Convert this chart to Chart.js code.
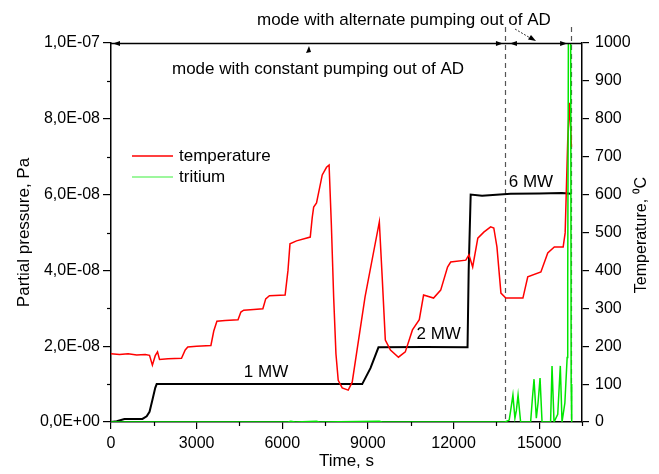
<!DOCTYPE html>
<html>
<head>
<meta charset="utf-8">
<script src="https://cdn.jsdelivr.net/npm/chart.js@4.4.1/dist/chart.umd.min.js"></script>
<style>
  html, body { margin: 0; padding: 0; background: #fff; }
</style>
</head>
<body>
<canvas id="chart" width="659" height="474"></canvas>
<script>
// temperature, degC (right axis)
const timeTemp = [0, 300, 600, 900, 1200, 1350, 1450, 1550, 1630, 1700, 2000, 2470, 2600, 2690, 3000, 3500, 3600, 3710, 4000, 4450, 4550, 4650, 5000, 5320, 5420, 5550, 6100, 6200, 6270, 6500, 6980, 7050, 7100, 7200, 7400, 7550, 7640, 7720, 7800, 7880, 7960, 8100, 8310, 8450, 8900, 9400, 9500, 9610, 9790, 10070, 10310, 10560, 10800, 10950, 11300, 11550, 11790, 11900, 12430, 12540, 12670, 12850, 13060, 13300, 13410, 13520, 13660, 13830, 14430, 14600, 15060, 15300, 15530, 15840, 15910, 16000, 16060, 16130];
const temperature = [180, 178, 180, 177, 178, 176, 150, 175, 185, 165, 167, 168, 190, 198, 200, 202, 240, 266, 268, 270, 290, 295, 297, 299, 325, 333, 335, 400, 470, 478, 488, 540, 567, 578, 652, 672, 678, 520, 330, 180, 110, 90, 84, 105, 330, 528, 383, 216, 190, 171, 185, 243, 270, 335, 327, 348, 409, 422, 427, 441, 409, 485, 501, 515, 512, 462, 340, 327, 327, 383, 396, 446, 462, 462, 499, 744, 842, 726];

// black trace (1 MW / 2 MW / 6 MW), Pa (left axis)
const timePower = [0, 200, 470, 1100, 1250, 1350, 1450, 1550, 1600, 5000, 8800, 9090, 9370, 11000, 12490, 12530, 12600, 13000, 14000, 15000, 15800, 16120];
const powerPressure = [0, 0.02e-8, 0.08e-8, 0.08e-8, 0.15e-8, 0.27e-8, 0.58e-8, 0.9e-8, 1.0e-8, 1.0e-8, 1.0e-8, 1.42e-8, 1.97e-8, 1.98e-8, 1.97e-8, 4.0e-8, 6.0e-8, 5.97e-8, 6.02e-8, 6.03e-8, 6.04e-8, 6.02e-8];

// tritium, Pa (left axis)
const timeTritium = [0, 6200, 6300, 6450, 7200, 7300, 9400, 9500, 13800, 13950, 14000, 14080, 14150, 14200, 14260, 14350, 14700, 14760, 14820, 14900, 14960, 15030, 15100, 15400, 15450, 15520, 15650, 15740, 15800, 15900, 15980, 16000, 16030, 16100, 16120, 16140];
const tritium = [0, 0, 0.02e-8, 0, 0.02e-8, 0, 0.02e-8, 0, 0, 0.05e-8, 0.3e-8, 0.71e-8, 0.1e-8, 0.3e-8, 0.71e-8, 0, 0, 0.6e-8, 1.13e-8, 0.1e-8, 0.5e-8, 1.16e-8, 0, 0, 1.48e-8, 0, 0.2e-8, 1.48e-8, 0, 0.5e-8, 1.7e-8, 3.7e-8, 12e-8, 12e-8, 1.0e-8, 0];

const xTickLabels = [0, 3000, 6000, 9000, 12000, 15000];
const modeBounds = [13800, 16120];
const legendOrder = ['temperature', 'tritium'];
const powerLabels = ['1 MW', '2 MW', '6 MW'];
const powerLabelAt = [[5430, 1.0e-8], [11480, 2.0e-8], [14710, 6.0e-8]];

const FONT = '"Liberation Sans", Arial, sans-serif';

function sciLabel(v) {
    const n = Math.round(v / 1e-8);
    if (n % 2 !== 0) return '';
    if (n === 0) return '0,0E+00';
    const parts = (n * 1e-8).toExponential(1).split('e');
    const ex = parseInt(parts[1]);
    return parts[0].replace('.', ',') + 'E' + (ex < 0 ? '-' : '+') + String(Math.abs(ex)).padStart(2, '0');
}

function toPoints(xs, ys) {
    return xs.map((x, i) => ({ x: x, y: ys[i] }));
}

function arrowHead(ctx, x, y, dir) {
    // small filled arrow head pointing left (-1) or right (+1)
    ctx.beginPath();
    ctx.moveTo(x, y);
    ctx.lineTo(x - dir * 7, y - 2.5);
    ctx.lineTo(x - dir * 7, y + 2.5);
    ctx.closePath();
    ctx.fill();
}

// dashed mode boundaries, under the data
const modeLines = {
    id: 'modeLines',
    beforeDatasetsDraw(chart) {
        const { ctx, chartArea, scales } = chart;
        ctx.save();
        ctx.strokeStyle = '#555';
        ctx.lineWidth = 1.2;
        ctx.setLineDash([5, 4]);
        modeBounds.forEach(t => {
            const x = Math.round(scales.x.getPixelForValue(t)) + 0.5;
            ctx.beginPath();
            ctx.moveTo(x, 27);
            ctx.lineTo(x, chartArea.bottom);
            ctx.stroke();
        });
        ctx.restore();
    }
};

// minor ticks, frame, arrows, texts, legend
const decorations = {
    id: 'decorations',
    afterDraw(chart) {
        const { ctx, chartArea, scales } = chart;
        const top = chartArea.top;
        ctx.save();
        ctx.strokeStyle = '#000';
        ctx.fillStyle = '#000';
        ctx.lineWidth = 1.2;

        // minor ticks
        for (let t = 1500; t <= 16500; t += 3000) {
            const x = Math.round(scales.x.getPixelForValue(t)) + 0.5;
            ctx.beginPath();
            ctx.moveTo(x, chartArea.bottom);
            ctx.lineTo(x, chartArea.bottom + 4);
            ctx.stroke();
        }
        for (let n = 1; n < 10; n += 2) {
            const y = Math.round(scales.y.getPixelForValue(n * 1e-8)) + 0.5;
            ctx.beginPath();
            ctx.moveTo(chartArea.left, y);
            ctx.lineTo(chartArea.left - 4, y);
            ctx.stroke();
        }

        // top frame line with the mode arrows
        ctx.lineWidth = 1.3;
        ctx.beginPath();
        ctx.moveTo(chartArea.left, top + 0.5);
        ctx.lineTo(chartArea.right, top + 0.5);
        ctx.stroke();
        const x1 = scales.x.getPixelForValue(modeBounds[0]);
        const x2 = scales.x.getPixelForValue(modeBounds[1]);
        arrowHead(ctx, chartArea.left + 2, top + 0.5, -1);
        arrowHead(ctx, x1 - 2, top + 0.5, 1);
        arrowHead(ctx, x1 + 5, top + 0.5, -1);
        arrowHead(ctx, x2 - 4, top + 0.5, 1);

        ctx.font = '17px ' + FONT;
        ctx.textBaseline = 'middle';
        ctx.textAlign = 'left';
        ctx.fillText('mode with alternate pumping out of AD', 257, 20);
        ctx.fillText('mode with constant pumping out of AD', 172, 69);

        // pointer from upper text to the short arrow
        ctx.lineWidth = 0.8;
        ctx.setLineDash([2, 1.5]);
        ctx.beginPath();
        ctx.moveTo(515, 29);
        ctx.lineTo(532, 39);
        ctx.stroke();
        ctx.setLineDash([]);
        ctx.beginPath();
        ctx.moveTo(536, 41);
        ctx.lineTo(528, 39.5);
        ctx.lineTo(531, 35);
        ctx.closePath();
        ctx.fill();
        // pointer from lower text up to the long arrow
        ctx.beginPath();
        ctx.moveTo(309, 46);
        ctx.lineTo(306, 53);
        ctx.lineTo(311, 52);
        ctx.closePath();
        ctx.fill();

        // power labels
        ctx.font = '17px ' + FONT;
        ctx.textAlign = 'center';
        powerLabels.forEach((txt, i) => {
            const px = scales.x.getPixelForValue(powerLabelAt[i][0]);
            const py = scales.y.getPixelForValue(powerLabelAt[i][1]) - 12;
            ctx.fillText(txt, px, py);
        });

        // right axis title, reading bottom to top
        ctx.save();
        ctx.translate(642, 235);
        ctx.rotate(-Math.PI / 2);
        ctx.textAlign = 'center';
        ctx.font = '16px ' + FONT;
        ctx.fillText('Temperature, \u2070C', 0, 0);
        ctx.restore();

        // legend
        ctx.font = '17px ' + FONT;
        legendOrder.forEach((name, i) => {
            const d = chart.data.datasets.find(ds => ds.label === name);
            const y = 156 + i * 21;
            ctx.strokeStyle = d.legendColor || d.borderColor;
            ctx.lineWidth = 1.5;
            ctx.beginPath();
            ctx.moveTo(132, y);
            ctx.lineTo(173, y);
            ctx.stroke();
            ctx.fillStyle = '#000';
            ctx.textAlign = 'left';
            ctx.fillText(d.label, 179, y);
        });
        ctx.restore();
    }
};

const chart = new Chart(document.getElementById('chart'), {
    type: 'line',
    data: {
        datasets: [
            {
                label: 'tritium',
                data: toPoints(timeTritium, tritium),
                yAxisID: 'y',
                borderColor: '#00e600',
                legendColor: '#7cf57c',
                borderWidth: 1.5,
                pointRadius: 0,
                tension: 0,
                order: 0
            },
            {
                label: 'temperature',
                data: toPoints(timeTemp, temperature),
                yAxisID: 'y2',
                borderColor: '#ff0000',
                borderWidth: 1.5,
                pointRadius: 0,
                tension: 0,
                order: 1
            },
            {
                label: 'power',
                data: toPoints(timePower, powerPressure),
                yAxisID: 'y',
                borderColor: '#000000',
                borderWidth: 2,
                pointRadius: 0,
                tension: 0,
                order: 2
            }
        ]
    },
    options: {
        responsive: false,
        animation: false,
        events: [],
        layout: { padding: { top: 43, left: 0, right: 0, bottom: 0 } },
        plugins: {
            legend: { display: false },
            tooltip: { enabled: false }
        },
        scales: {
            x: {
                type: 'linear',
                min: 0,
                max: 16500,
                afterFit(s) { s.height = 52; },
                ticks: {
                    stepSize: 1500,
                    autoSkip: false,
                    maxRotation: 0,
                    padding: 5,
                    color: '#000',
                    font: { family: FONT, size: 16 },
                    callback: v => xTickLabels.includes(v) ? String(v) : ''
                },
                grid: {
                    drawOnChartArea: false,
                    tickLength: 7,
                    lineWidth: 1.2,
                    color: ctx => (ctx.tick && ctx.tick.value % 3000 === 0) ? '#000' : 'rgba(0,0,0,0)'
                },
                border: { display: true, color: '#000', width: 1.5 },
                title: {
                    display: true,
                    text: 'Time, s',
                    color: '#000',
                    font: { family: FONT, size: 17 },
                    padding: { top: 0, bottom: 2 }
                }
            },
            y: {
                type: 'linear',
                position: 'left',
                min: 0,
                max: 1e-7,
                afterFit(s) { s.width = 111; },
                ticks: {
                    stepSize: 1e-8,
                    autoSkip: false,
                    padding: 3,
                    color: '#000',
                    font: { family: FONT, size: 16 },
                    callback: v => sciLabel(v)
                },
                grid: {
                    drawOnChartArea: false,
                    tickLength: 8,
                    lineWidth: 1.2,
                    color: ctx => (ctx.tick && Math.round(ctx.tick.value / 1e-8) % 2 === 0) ? '#000' : 'rgba(0,0,0,0)'
                },
                border: { display: true, color: '#000', width: 1.5 },
                title: {
                    display: true,
                    text: 'Partial pressure, Pa',
                    color: '#000',
                    font: { family: FONT, size: 17 },
                    padding: { top: 14, bottom: 0 }
                }
            },
            y2: {
                type: 'linear',
                position: 'right',
                min: 0,
                max: 1000,
                afterFit(s) { s.width = 77; },
                ticks: {
                    stepSize: 100,
                    autoSkip: false,
                    padding: 6,
                    color: '#000',
                    font: { family: FONT, size: 16 },
                    callback: v => String(v)
                },
                grid: {
                    drawOnChartArea: false,
                    tickLength: 7,
                    lineWidth: 1.2,
                    color: '#000'
                },
                border: { display: true, color: '#000', width: 1.5 }
            }
        }
    },
    plugins: [modeLines, decorations]
});
</script>
</body>
</html>
